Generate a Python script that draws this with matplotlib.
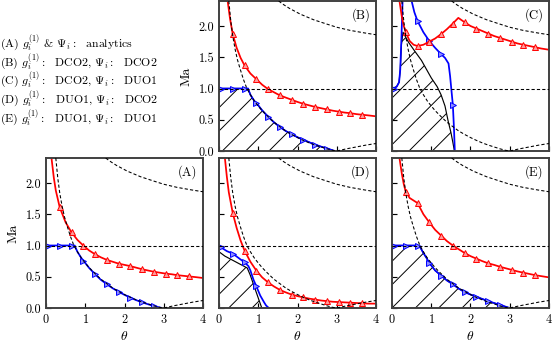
import numpy as np
import matplotlib
matplotlib.use("Agg")
import matplotlib.pyplot as plt

plt.rcParams["font.family"] = "serif"
plt.rcParams["font.serif"] = ["cmr10", "DejaVu Serif"]
plt.rcParams["mathtext.fontset"] = "cm"
plt.rcParams["axes.formatter.use_mathtext"] = True
plt.rcParams["axes.unicode_minus"] = False
plt.rcParams["hatch.linewidth"] = 0.5

# reference (dashed) curves, shared by all panels
lower_theta = [0.25, 0.3, 0.35, 0.41, 0.47, 0.54, 0.62, 0.71, 0.8, 0.9, 1.0, 1.1, 1.25, 1.4, 1.55,
               1.7, 1.85, 2.0, 2.15, 2.3, 2.45, 2.6, 2.75, 2.9, 3.0, 3.25, 3.5, 3.75, 4.0]
lower_ma = [2.4, 2.08, 1.84, 1.63, 1.46, 1.31, 1.15, 1.0, 0.9, 0.8, 0.72, 0.645, 0.55, 0.46, 0.39,
            0.32, 0.265, 0.215, 0.17, 0.13, 0.095, 0.065, 0.035, 0.01, 0.0, 0.035, 0.065, 0.095, 0.12]
upper_theta = [1.52, 1.65, 1.8, 2.07, 2.41, 2.75, 3.0, 3.34, 3.7, 4.0]
upper_ma = [2.4, 2.34, 2.28, 2.19, 2.1, 2.03, 1.98, 1.93, 1.89, 1.86]

# theta positions where markers are shown
mark_theta = [0.05, 0.35, 0.65, 0.95, 1.25, 1.55, 1.85, 2.15, 2.45, 2.75, 3.05, 3.35, 3.65]

# (A) analytics
red_A_theta = [0.14, 0.2, 0.25, 0.35, 0.5, 0.65, 0.8, 0.95, 1.1, 1.25, 1.4, 1.55, 1.7, 1.85, 2.0,
               2.15, 2.3, 2.45, 2.6, 2.75, 2.9, 3.05, 3.2, 3.35, 3.5, 3.65, 3.8, 4.0]
red_A_ma = [2.4, 2.08, 1.88, 1.61, 1.37, 1.21, 1.09, 1.0, 0.92, 0.86, 0.81, 0.77, 0.74, 0.71, 0.69,
            0.67, 0.645, 0.62, 0.6, 0.58, 0.565, 0.55, 0.54, 0.525, 0.515, 0.505, 0.495, 0.48]
blue_A_theta = [0, 0.05, 0.35, 0.65, 0.73, 0.8, 0.9, 0.95, 1.1, 1.25, 1.4, 1.55, 1.7, 1.85, 2.0,
                2.15, 2.3, 2.45, 2.6, 2.75, 2.9, 2.96]
blue_A_ma = [1.0, 1.0, 1.0, 1.0, 1.0, 0.9, 0.8, 0.76, 0.64, 0.54, 0.45, 0.38, 0.315, 0.26, 0.21,
             0.165, 0.125, 0.09, 0.06, 0.03, 0.008, 0.0]

# (B) DCO2 / DCO2
red_B_theta = [0.22, 0.28, 0.35, 0.45, 0.55, 0.65, 0.8, 0.95, 1.1, 1.25, 1.4, 1.55, 1.7, 1.85, 2.0,
               2.15, 2.3, 2.45, 2.6, 2.75, 2.9, 3.05, 3.2, 3.35, 3.5, 3.65, 3.8, 4.0]
red_B_ma = [2.4, 2.12, 1.87, 1.65, 1.49, 1.37, 1.24, 1.15, 1.06, 0.99, 0.94, 0.89, 0.855, 0.82, 0.785,
            0.755, 0.73, 0.705, 0.685, 0.665, 0.645, 0.63, 0.615, 0.605, 0.59, 0.58, 0.57, 0.555]
blue_B_theta = [0, 0.05, 0.35, 0.65, 0.74, 0.8, 0.9, 0.95, 1.1, 1.25, 1.4, 1.55, 1.7, 1.85, 2.0,
                2.15, 2.3, 2.45, 2.6, 2.75, 2.9, 2.96]
blue_B_ma = [1.0, 1.0, 1.0, 1.0, 1.0, 0.9, 0.8, 0.77, 0.65, 0.55, 0.46, 0.385, 0.32, 0.27, 0.22,
             0.18, 0.14, 0.1, 0.07, 0.04, 0.01, 0.0]

# (C) DCO2 / DUO1
red_C_theta = [0.19, 0.25, 0.3, 0.35, 0.45, 0.55, 0.65, 0.8, 0.95, 1.1, 1.25, 1.4, 1.55, 1.69, 1.85,
               2.0, 2.15, 2.3, 2.45, 2.6, 2.75, 2.9, 3.05, 3.2, 3.35, 3.5, 3.65, 3.8, 4.0]
red_C_ma = [2.4, 2.15, 2.0, 1.9, 1.76, 1.7, 1.68, 1.7, 1.75, 1.8, 1.87, 1.95, 2.04, 2.13, 2.06,
            2.0, 1.96, 1.92, 1.88, 1.84, 1.81, 1.78, 1.75, 1.72, 1.7, 1.68, 1.66, 1.64, 1.62]
blue_C_theta = [0, 0.05, 0.12, 0.18, 0.21, 0.24, 0.27, 0.3, 0.45, 0.5, 0.57, 0.65, 0.8, 0.95, 1.1,
                1.25, 1.35, 1.44, 1.48, 1.51, 1.55, 1.58, 1.6]
blue_C_ma = [1.0, 1.0, 1.03, 1.1, 1.3, 1.8, 2.4, 3.0, 2.7, 2.4, 2.22, 2.08, 1.9, 1.76, 1.65,
             1.55, 1.49, 1.4, 1.2, 1.0, 0.74, 0.35, 0.0]
hatch_C_theta = [0, 0.12, 0.18, 0.21, 0.24, 0.28, 0.42, 0.6, 0.75, 1.0, 1.15, 1.25, 1.35, 1.43,
                 1.5, 1.55, 1.59]
hatch_C_ma = [1.0, 1.03, 1.1, 1.3, 1.7, 1.9, 1.74, 1.58, 1.45, 1.17, 1.03, 0.9, 0.72, 0.48,
              0.3, 0.14, 0.0]

# (D) DUO1 / DCO2
red_D_theta = [0.15, 0.2, 0.25, 0.35, 0.45, 0.55, 0.65, 0.8, 0.95, 1.1, 1.25, 1.4, 1.55, 1.7, 1.85,
               2.0, 2.15, 2.3, 2.45, 2.6, 2.75, 2.9, 3.05, 3.2, 3.35, 3.5, 3.65, 3.8, 4.0]
red_D_ma = [2.4, 2.1, 1.85, 1.52, 1.28, 1.08, 0.92, 0.74, 0.6, 0.49, 0.41, 0.345, 0.29, 0.25, 0.215,
            0.19, 0.17, 0.15, 0.135, 0.12, 0.11, 0.1, 0.095, 0.09, 0.085, 0.08, 0.075, 0.07, 0.07]
blue_D_theta = [0, 0.05, 0.2, 0.35, 0.5, 0.65, 0.75, 0.8, 0.88, 0.95, 1.05, 1.15, 1.2, 1.27]
blue_D_ma = [0.99, 0.97, 0.91, 0.87, 0.8, 0.73, 0.67, 0.6, 0.45, 0.35, 0.2, 0.09, 0.04, 0.0]
hatch_D_theta = [0, 0.15, 0.3, 0.45, 0.6, 0.72, 0.8, 0.9, 1.0, 1.09]
hatch_D_ma = [0.9, 0.83, 0.78, 0.73, 0.68, 0.64, 0.52, 0.34, 0.16, 0.0]

# (E) DUO1 / DUO1
red_E_theta = [0.19, 0.25, 0.3, 0.35, 0.45, 0.55, 0.65, 0.8, 0.95, 1.1, 1.25, 1.4, 1.55, 1.7, 1.85,
               2.0, 2.15, 2.3, 2.45, 2.6, 2.75, 2.9, 3.05, 3.2, 3.35, 3.5, 3.65, 3.8, 4.0]
red_E_ma = [2.4, 2.15, 1.98, 1.86, 1.76, 1.72, 1.68, 1.5, 1.37, 1.25, 1.16, 1.07, 1.0, 0.94, 0.88,
            0.83, 0.79, 0.75, 0.715, 0.69, 0.66, 0.635, 0.61, 0.585, 0.565, 0.545, 0.525, 0.51, 0.49]
blue_E_theta = [0, 0.05, 0.35, 0.65, 0.72, 0.8, 0.88, 0.95, 1.1, 1.25, 1.4, 1.55, 1.7, 1.85, 2.0,
                2.15, 2.3, 2.45, 2.6, 2.75, 2.9, 3.0]
blue_E_ma = [1.0, 1.0, 1.0, 1.0, 0.97, 0.88, 0.8, 0.72, 0.6, 0.52, 0.44, 0.38, 0.31, 0.255, 0.215,
             0.18, 0.145, 0.11, 0.08, 0.05, 0.02, 0.0]

legend_lines = [
    r"(A) $g_i^{(1)}$ & $\Psi_i:$  analytics",
    r"(B) $g_i^{(1)}:$  DCO2, $\Psi_i:$  DCO2",
    r"(C) $g_i^{(1)}:$  DCO2, $\Psi_i:$  DUO1",
    r"(D) $g_i^{(1)}:$  DUO1, $\Psi_i:$  DCO2",
    r"(E) $g_i^{(1)}:$  DUO1, $\Psi_i:$  DUO1",
]


def marks(theta):
    theta = np.round(np.asarray(theta, dtype=float), 2)
    return list(np.where(np.isin(theta, mark_theta))[0])


def draw_panel(ax, label, red, blue, hatch=None):
    dash = dict(color="k", ls="--", lw=0.55, dashes=(3, 2), zorder=4)
    ax.plot(lower_theta, lower_ma, **dash)
    ax.plot(upper_theta, upper_ma, **dash)
    ax.axhline(1.0, **dash)
    if hatch is not None:
        ax.fill_between(hatch[0], 0, hatch[1], facecolor="none", edgecolor="k",
                        hatch="//", linewidth=0)
        ax.plot(hatch[0], hatch[1], color="k", lw=0.6)
    ax.plot(blue[0], blue[1], color="blue", lw=0.9, marker=">", ms=3.2,
            mfc="#8c8cff", mec="blue", mew=0.5, markevery=marks(blue[0]))
    ax.plot(red[0], red[1], color="red", lw=0.9, marker="^", ms=3.2,
            mfc="#ff9c9c", mec="red", mew=0.5, markevery=marks(red[0]))
    ax.set_xlim(0, 4)
    ax.set_ylim(0, 2.4)
    ax.set_xticks([0, 1, 2, 3, 4])
    ax.set_yticks([0, 0.5, 1.0, 1.5, 2.0])
    ax.yaxis.set_major_formatter(matplotlib.ticker.FormatStrFormatter("%.1f"))
    ax.tick_params(direction="in", length=2.5, width=0.6, labelsize=6.3, pad=2.5)
    for s in ax.spines.values():
        s.set_linewidth(1.0)
        s.set_color("#404040")
    ax.text(0.965, 0.955, label, transform=ax.transAxes, ha="right", va="top", fontsize=6.6)


fig = plt.figure(figsize=(554 / 140, 342 / 140), dpi=140)
W, H = 554, 342
pw, ph = 157, 150


def make_ax(x0, ytop):
    return fig.add_axes([x0 / W, (H - ytop - ph) / H, pw / W, ph / H])


axB = make_ax(219, 1)
axC = make_ax(392, 1)
axA = make_ax(46, 158)
axD = make_ax(219, 158)
axE = make_ax(392, 158)

draw_panel(axA, "(A)", (red_A_theta, red_A_ma), (blue_A_theta, blue_A_ma))
draw_panel(axB, "(B)", (red_B_theta, red_B_ma), (blue_B_theta, blue_B_ma),
           (blue_B_theta, blue_B_ma))
draw_panel(axC, "(C)", (red_C_theta, red_C_ma), (blue_C_theta, blue_C_ma),
           (hatch_C_theta, hatch_C_ma))
draw_panel(axD, "(D)", (red_D_theta, red_D_ma), (blue_D_theta, blue_D_ma),
           (hatch_D_theta, hatch_D_ma))
draw_panel(axE, "(E)", (red_E_theta, red_E_ma), (blue_E_theta, blue_E_ma),
           (blue_E_theta, blue_E_ma))

for ax in (axB, axC):
    ax.tick_params(labelbottom=False)
for ax in (axC, axD, axE):
    ax.tick_params(labelleft=False)
for ax in (axA, axB):
    ax.set_ylabel("Ma", fontsize=7, labelpad=3)
for ax in (axA, axD, axE):
    ax.set_xlabel(r"$\theta$", fontsize=7, labelpad=2)

for i, line in enumerate(legend_lines):
    fig.text(0.0, 1 - (42.5 + 18.7 * i) / H, line, ha="left", va="center", fontsize=6.1)

fig.savefig("out.png", dpi=140)
